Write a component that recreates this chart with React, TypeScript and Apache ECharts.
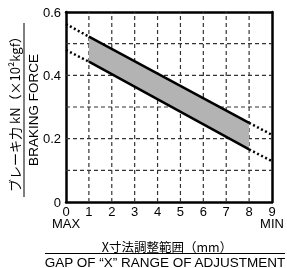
import React, { useEffect, useRef } from "react";
import * as echarts from "echarts";

const xTicks = [0, 1, 2, 3, 4, 5, 6, 7, 8, 9];
const yTickLabels = ["0", "0.2", "0.4", "0.6"];
const xGrid = [1, 2, 3, 4, 5, 6, 7, 8];
const yGrid = [0.1, 0.2, 0.3, 0.4, 0.5];

// solid band edges (x from 1 to 8)
const bandX = [1, 8];
const upperSolid = [0.522, 0.25];
const lowerSolid = [0.443, 0.166];

// dotted extensions
const upperDotLeft = [[0, 0.562], [1, 0.522]];
const upperDotRight = [[8, 0.25], [9, 0.212]];
const lowerDotLeft = [[0, 0.48], [1, 0.443]];
const lowerDotRight = [[8, 0.166], [9, 0.129]];

const LATIN = "'Liberation Sans', Arial, sans-serif";
const JP = "'Noto Sans CJK JP', sans-serif";

export default function App() {
  const ref = useRef<HTMLDivElement>(null);
  useEffect(() => {
    if (!ref.current) return;
    const chart = echarts.init(ref.current, undefined, { renderer: "svg" });
    const solid = (ys: number[]) => bandX.map((x, i) => [x, ys[i]]);
    const lineStyleSolid = { color: "#000", width: 2.5, type: "solid" as const };
    const lineStyleDot = { color: "#000", width: 2.5, type: [2, 2.5] as any };
    const gridLS = { color: "#333", width: 1.2, type: [4, 3] as any };
    const mkLine = (data: number[][], ls: any, z = 5) => ({
      type: "line",
      data,
      showSymbol: false,
      symbol: "none",
      lineStyle: ls,
      z,
      silent: true,
    });
    const border = { show: true, onZero: false, lineStyle: { color: "#000", width: 2.5 } };
    const gridSeries = [
      ...xGrid.map((x) => mkLine([[x, 0], [x, 0.6]], gridLS, 1)),
      ...yGrid.map((y) => mkLine([[0, y], [9, y]], gridLS, 1)),
    ];
    chart.setOption({
      animation: false,
      grid: { left: 66, right: 15, top: 12, bottom: 66 },
      xAxis: [
        {
          type: "value",
          min: 0,
          max: 9,
          interval: 1,
          axisLine: border,
          axisTick: { show: false },
          axisLabel: {
            color: "#000",
            fontFamily: LATIN,
            fontSize: 13,
            margin: 3,
            lineHeight: 12,
            formatter: (v: number) => {
              const i = Math.round(v);
              const t = String(xTicks[i]);
              if (i === 0) return t + "\nMAX";
              if (i === 9) return t + "\nMIN";
              return t;
            },
          },
          splitLine: { show: false },
        },
        {
          type: "value",
          position: "top",
          min: 0,
          max: 9,
          interval: 1,
          axisLine: border,
          axisTick: { show: false },
          axisLabel: { show: false },
          splitLine: { show: false },
        },
      ],
      yAxis: [
        {
          type: "value",
          min: 0,
          max: 0.6,
          interval: 0.1,
          axisLine: border,
          axisTick: { show: false },
          axisLabel: {
            color: "#000",
            fontFamily: LATIN,
            fontSize: 13,
            margin: 5,
            formatter: (v: number) => {
              const k = Math.round(v * 10);
              return k % 2 === 0 ? yTickLabels[k / 2] : "";
            },
          },
          splitLine: { show: false },
        },
        {
          type: "value",
          position: "right",
          min: 0,
          max: 0.6,
          interval: 0.1,
          axisLine: border,
          axisTick: { show: false },
          axisLabel: { show: false },
          splitLine: { show: false },
        },
      ],
      series: [
        ...gridSeries,
        {
          type: "custom",
          z: 3,
          silent: true,
          data: [0],
          renderItem: (_p: any, api: any) => {
            const pts: number[][] = [];
            bandX.forEach((x, i) => pts.push(api.coord([x, upperSolid[i]])));
            for (let i = bandX.length - 1; i >= 0; i--)
              pts.push(api.coord([bandX[i], lowerSolid[i]]));
            return {
              type: "polygon",
              shape: { points: pts },
              style: { fill: "#b3b3b3", stroke: "none" },
            };
          },
        },
        mkLine(solid(upperSolid), lineStyleSolid),
        mkLine(solid(lowerSolid), lineStyleSolid),
        mkLine(upperDotLeft, lineStyleDot),
        mkLine(upperDotRight, lineStyleDot),
        mkLine(lowerDotLeft, lineStyleDot),
        mkLine(lowerDotRight, lineStyleDot),
      ],
      graphic: [
        {
          type: "text",
          x: 14,
          y: 111,
          rotation: Math.PI / 2,
          style: {
            text: "ブレーキ力 kN（×10²kgf）",
            fontFamily: JP,
            fontSize: 13,
            fill: "#000",
            align: "center",
            verticalAlign: "middle",
          },
        },
        {
          type: "line",
          shape: { x1: 24, y1: 23, x2: 24, y2: 197 },
          style: { stroke: "#000", lineWidth: 1 },
        },
        {
          type: "text",
          x: 33,
          y: 110,
          rotation: Math.PI / 2,
          style: {
            text: "BRAKING FORCE",
            fontFamily: LATIN,
            fontSize: 13.5,
            fill: "#000",
            align: "center",
            verticalAlign: "middle",
          },
        },
        {
          type: "text",
          x: 167,
          y: 246,
          style: {
            text: "X寸法調整範囲（mm）",
            fontFamily: JP,
            fontSize: 12.5,
            fill: "#000",
            align: "center",
            verticalAlign: "middle",
          },
        },
        {
          type: "line",
          shape: { x1: 45, y1: 253.5, x2: 285, y2: 253.5 },
          style: { stroke: "#000", lineWidth: 1 },
        },
        {
          type: "text",
          x: 165,
          y: 262,
          style: {
            text: "GAP OF “X” RANGE OF ADJUSTMENT",
            fontFamily: LATIN,
            fontSize: 13.5,
            fill: "#000",
            align: "center",
            verticalAlign: "middle",
          },
        },
      ],
    });
    return () => chart.dispose();
  }, []);
  return (
    <div
      ref={ref}
      style={{ position: "fixed", left: 0, top: 0, width: 287, height: 268 }}
    />
  );
}
